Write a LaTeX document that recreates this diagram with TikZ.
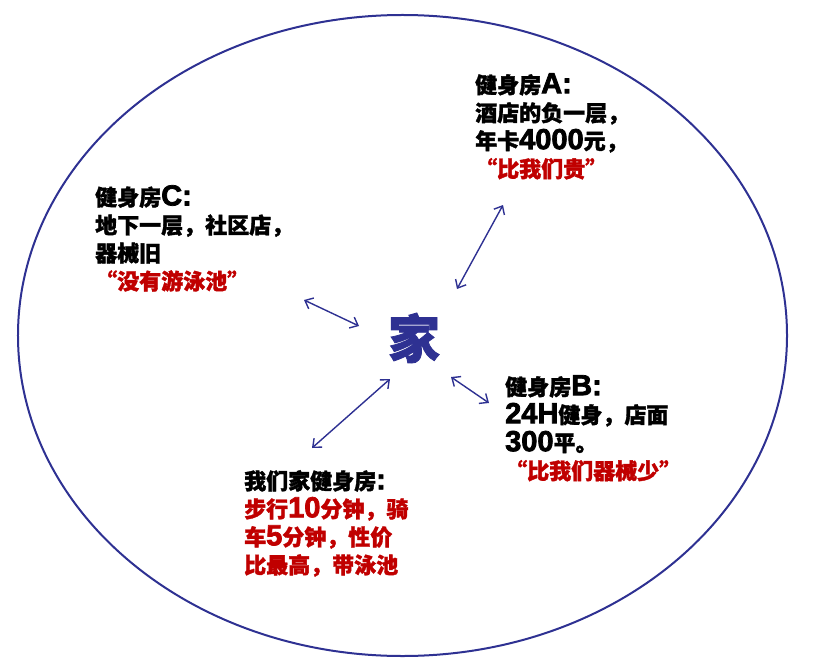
\documentclass[tikz,border=0pt]{standalone}
\usepackage{fontspec}
\setmainfont{Noto Sans CJK SC}[BoldFeatures={FakeBold=1.6}]
\newfontfamily\latinfont{Liberation Sans}[FakeBold=2.6]
\newcommand{\lat}[1]{{\latinfont\fontsize{29bp}{28bp}\selectfont #1}}
\usetikzlibrary{arrows.meta}
\definecolor{navy}{RGB}{46,49,146}
\definecolor{deepred}{RGB}{192,0,0}
\tikzset{
  gym/.style={anchor=north west, inner sep=0pt, align=left,
    font=\fontsize{22bp}{28bp}\selectfont\bfseries},
  link/.style={draw=navy, line width=1.4bp, {Straight Barb[length=7bp,width=12bp]}-{Straight Barb[length=7bp,width=12bp]}}
}
\begin{document}
\begin{tikzpicture}[x=1bp, y=-1bp]
  \useasboundingbox (0,0) rectangle (816,670);

  %% ring
  \draw[navy, line width=2bp] (402.5,335.5) ellipse [x radius=384.5bp, y radius=320.5bp];

  %% home
  \node[text=navy, font=\fontsize{52bp}{56bp}\selectfont\bfseries, inner sep=0pt] (home) at (414,338) {家};

  %% gyms
  \node[gym] (gymA) at (475,73) {健身房\lat{A:}\\酒店的负一层，\\年卡\lat{4000}元，\\\textcolor{deepred}{“比我们贵”}};
  \node[gym] (gymB) at (505,375) {健身房\lat{B:}\\\lat{24H}健身，店面\\\lat{300}平。\\\textcolor{deepred}{“比我们器械少”}};
  \node[gym] (gymC) at (95,185) {健身房\lat{C:}\\地下一层，社区店，\\器械旧\\\textcolor{deepred}{“没有游泳池”}};
  \node[gym] (ours) at (244,470) {我们家健身房\lat{:}\\\textcolor{deepred}{步行\lat{10}分钟，骑}\\\textcolor{deepred}{车\lat{5}分钟，性价}\\\textcolor{deepred}{比最高，带泳池}};

  %% arrow ends
  \coordinate (a1) at (457,289);
  \coordinate (a2) at (503,205);
  \coordinate (b1) at (451,377);
  \coordinate (b2) at (489,403);
  \coordinate (c1) at (359,326);
  \coordinate (c2) at (304,300);
  \coordinate (h1) at (390,379);
  \coordinate (h2) at (312,448);

  \draw[link] (a1) -- (a2);
  \draw[link] (b1) -- (b2);
  \draw[link] (c1) -- (c2);
  \draw[link] (h1) -- (h2);
\end{tikzpicture}
\end{document}
